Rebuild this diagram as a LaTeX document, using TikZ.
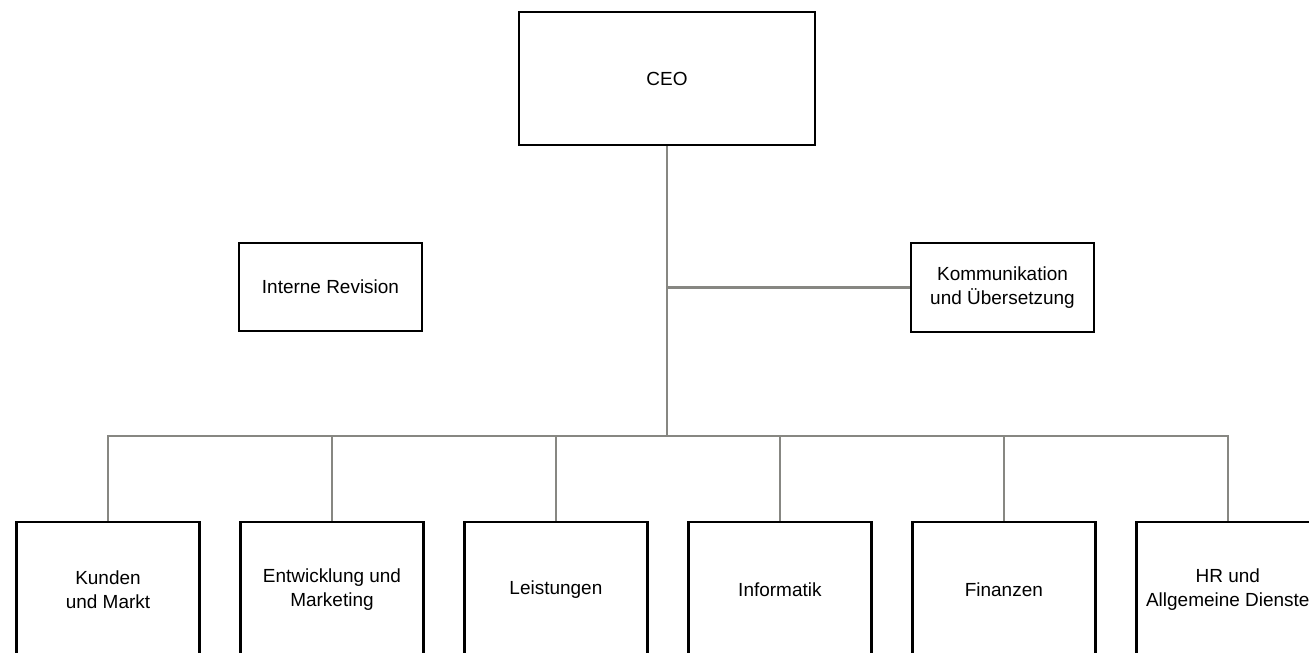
\documentclass[tikz,border=0pt]{standalone}
\usepackage{fontspec}
\setmainfont{Liberation Sans}
\usetikzlibrary{positioning, calc}
\definecolor{linegray}{RGB}{135,135,130}

\begin{document}
\begin{tikzpicture}[
    % Styles
    unit/.style={ % Org unit box
        rectangle,
        draw,
        line width=1.4pt,
        fill=white,
        minimum width=3.66cm,
        minimum height=1.77cm,
        align=center,
        font=\fontsize{10.8}{13.7}\selectfont
    },
    head/.style={ % Top box
        unit,
        minimum width=5.92cm,
        minimum height=2.66cm
    },
    dept/.style={ % Departments in the bottom row
        unit,
        minimum height=2.72cm
    },
    link/.style={
        draw=linegray,
        line width=1.3pt
    }
]

    % Page frame
    \path[use as bounding box, clip] (0,0) rectangle (26.18,-13.04);

    % Management
    \node[head] (ceo) at (13.34,-1.57) {CEO};
    \node[unit] (rev) at (6.61,-5.74) {Interne Revision};
    \node[unit] (komm) at (20.05,-5.75) {Kommunikation\\und Übersetzung};

    % Departments
    \node[dept] (kunden) at (2.16,-11.8) {Kunden\\und Markt};
    \node[dept, right=0.77cm of kunden] (entw) {Entwicklung und\\Marketing};
    \node[dept, right=0.77cm of entw] (leist) {Leistungen};
    \node[dept, right=0.77cm of leist] (info) {Informatik};
    \node[dept, right=0.77cm of info] (fin) {Finanzen};
    \node[dept, right=0.77cm of fin] (hr) {HR und\\Allgemeine Dienste};

    % Trunk and staff line
    \coordinate (bus) at ($(ceo.south |- 0,-8.72)$);
    \draw[link] (ceo.south) -- (bus);
    \draw[link] (komm.west) -- (komm.west -| ceo.south);

    % Bus to departments
    \foreach \X in {kunden, entw, leist, info, fin, hr} {
        \draw[link] (bus) -| (\X.north);
    }

\end{tikzpicture}
\end{document}
